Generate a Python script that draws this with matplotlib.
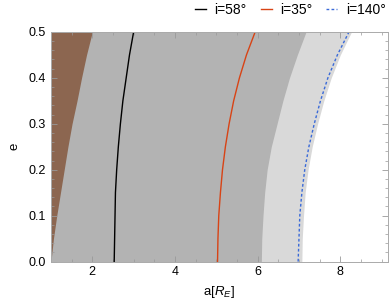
import matplotlib
matplotlib.use("Agg")
import matplotlib.pyplot as plt
from matplotlib.ticker import MultipleLocator
import numpy as np

plt.rcParams["font.family"] = ["Liberation Sans", "DejaVu Sans"]
plt.rcParams["mathtext.fontset"] = "custom"
plt.rcParams["mathtext.it"] = "Liberation Sans:italic"
plt.rcParams["mathtext.rm"] = "Liberation Sans"

# eccentricity grid shared by all boundaries
ecc = [0.0, 0.05, 0.1, 0.15, 0.2, 0.25, 0.3, 0.35, 0.4, 0.45, 0.5]

a_min = 1.0
a_brown = [1.0, 1.06, 1.14, 1.23, 1.32, 1.41, 1.51, 1.63, 1.74, 1.86, 2.0]
a_dark = [6.09, 6.10, 6.13, 6.17, 6.23, 6.33, 6.47, 6.61, 6.77, 6.96, 7.17]
a_light = [7.07, 7.08, 7.11, 7.15, 7.22, 7.32, 7.45, 7.60, 7.78, 8.0, 8.27]

a_i58 = [2.53, 2.54, 2.55, 2.56, 2.59, 2.63, 2.68, 2.74, 2.82, 2.90, 3.0]
a_i35 = [5.03, 5.04, 5.06, 5.10, 5.15, 5.22, 5.31, 5.42, 5.56, 5.73, 5.94]
a_i140 = [6.98, 7.0, 7.02, 7.07, 7.14, 7.24, 7.37, 7.52, 7.70, 7.93, 8.21]

fig = plt.figure(figsize=(3.89, 3.07), dpi=100)
ax = fig.add_axes([0.131, 0.148, 0.866, 0.748])

ax.fill_betweenx(ecc, a_min, a_light, color="#d9d9d9", lw=0)
ax.fill_betweenx(ecc, a_min, a_dark, color="#b3b3b3", lw=0)
ax.fill_betweenx(ecc, a_min, a_brown, color="#8c6650", lw=0)

ax.plot(a_i58, ecc, color="black", lw=1.0, label="i=58°")
ax.plot(a_i35, ecc, color="#d84315", lw=1.0, label="i=35°")
ax.plot(a_i140, ecc, color="#3a6ad8", lw=1.0, ls=(0, (2.0, 1.6)), label="i=140°")

ax.set_xlim(1.0, 9.15)
ax.set_ylim(0, 0.5)
ax.xaxis.set_major_locator(MultipleLocator(2))
ax.xaxis.set_minor_locator(MultipleLocator(0.5))
ax.yaxis.set_major_locator(MultipleLocator(0.1))
ax.yaxis.set_minor_locator(MultipleLocator(0.02))
ax.yaxis.set_major_formatter(plt.FuncFormatter(lambda v, p: f"{v:.1f}"))
ax.tick_params(which="both", direction="in", top=True, right=True,
               color="#999999", labelsize=9, pad=3.5)
ax.tick_params(which="major", length=4, width=0.6)
ax.tick_params(which="minor", length=2, width=0.5)
for s in ax.spines.values():
    s.set_color("#aaaaaa")
    s.set_linewidth(0.7)

ax.set_xlabel("a[$R_E$]", fontsize=9.5, labelpad=4)
ax.set_ylabel("e", fontsize=9.5, labelpad=6)

fig.legend(*ax.get_legend_handles_labels(), loc="upper right",
           bbox_to_anchor=(0.995, 0.995), ncol=3, frameon=False,
           fontsize=10, handlelength=0.8, handletextpad=0.6, columnspacing=1.0,
           borderaxespad=0.0, borderpad=0.1)

fig.savefig("out.png", dpi=100)
